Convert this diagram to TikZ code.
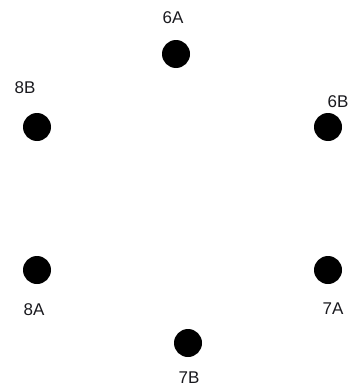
\documentclass[tikz,border=0pt]{standalone}
\usepackage{fontspec}
\setmainfont{Liberation Sans}
\usepackage{tikz}
\usetikzlibrary{positioning}
\definecolor{mydark}{RGB}{25,25,30}
\tikzset{
  pin dot/.style={circle, fill=black, inner sep=0pt, minimum size=28pt},
  pin label/.style={font=\fontsize{17}{17}\selectfont, color=mydark, inner sep=0pt}
}

\begin{document}
\begin{tikzpicture}[x=1pt, y=-1pt]
  \useasboundingbox (0,0) rectangle (355,388);
  % Pins
  \node[pin dot] (p6A) at (176,54) {};
  \node[pin dot] (p8B) at (37,127) {};
  \node[pin dot] (p6B) at (328,127) {};
  \node[pin dot] (p8A) at (37,270) {};
  \node[pin dot] (p7A) at (328,270) {};
  \node[pin dot] (p7B) at (188,343) {};
  % Labels
  \node[pin label] (l6A) at (173,18) {6A};
  \node[pin label] (l8B) at (25,88) {8B};
  \node[pin label] (l6B) at (338,102) {6B};
  \node[pin label] (l8A) at (34,310) {8A};
  \node[pin label] (l7A) at (333,309) {7A};
  \node[pin label] (l7B) at (189,378) {7B};
\end{tikzpicture}
\end{document}
